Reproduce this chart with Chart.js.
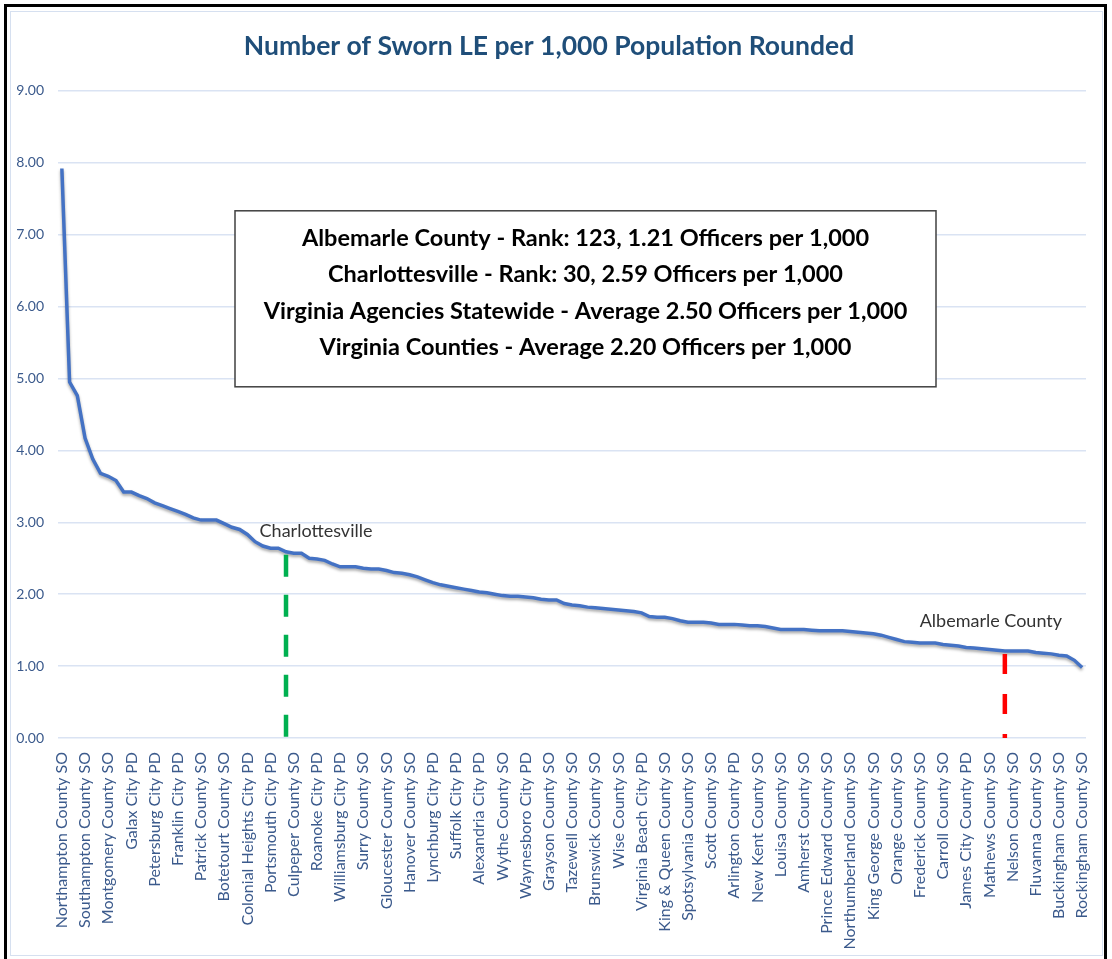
<!DOCTYPE html>
<html>
<head>
<meta charset="utf-8">
<title>Number of Sworn LE per 1,000 Population Rounded</title>
<script src="https://cdn.jsdelivr.net/npm/chart.js@4.4.1/dist/chart.umd.min.js"></script>
<style>
    body { margin: 0; background: #fff; width: 1112px; height: 959px; overflow: hidden; position: relative; }
    #frame { position: absolute; left: 4px; top: 4px; width: 1097px; height: 990px; border: 3px solid #000; }
    #panel { position: absolute; left: 10px; top: 11px; width: 1091px; height: 943px; border: 1px solid #d6e0f0; }
    #wrap { position: absolute; left: 12px; top: 13px; width: 1088px; height: 940px; }
</style>
</head>
<body>
<div id="frame"></div>
<div id="panel"></div>
<div id="wrap"><canvas id="leChart"></canvas></div>
<script>
// Officers per 1,000 population, one value per agency, highest to lowest (133 agencies)
const officersPer1000 = [
    7.92, 4.95, 4.76, 4.17, 3.88, 3.68, 3.64, 3.58, 3.42, 3.42,
    3.37, 3.33, 3.27, 3.23, 3.19, 3.15, 3.11, 3.06, 3.03, 3.03,
    3.03, 2.98, 2.93, 2.90, 2.83, 2.73, 2.67, 2.64, 2.64, 2.59,
    2.57, 2.57, 2.50, 2.49, 2.47, 2.42, 2.38, 2.38, 2.38, 2.36,
    2.35, 2.35, 2.33, 2.30, 2.29, 2.27, 2.24, 2.20, 2.16, 2.13,
    2.11, 2.09, 2.07, 2.05, 2.03, 2.02, 2.00, 1.98, 1.97, 1.97,
    1.96, 1.95, 1.93, 1.92, 1.92, 1.87, 1.85, 1.84, 1.82, 1.81,
    1.80, 1.79, 1.78, 1.77, 1.76, 1.74, 1.69, 1.68, 1.68, 1.66,
    1.63, 1.61, 1.61, 1.61, 1.60, 1.58, 1.58, 1.58, 1.57, 1.56,
    1.56, 1.55, 1.53, 1.51, 1.51, 1.51, 1.51, 1.50, 1.49, 1.49,
    1.49, 1.49, 1.48, 1.47, 1.46, 1.45, 1.43, 1.40, 1.37, 1.34,
    1.33, 1.32, 1.32, 1.32, 1.30, 1.29, 1.28, 1.26, 1.25, 1.24,
    1.23, 1.22, 1.21, 1.21, 1.21, 1.21, 1.19, 1.18, 1.17, 1.15,
    1.14, 1.08, 0.98
];

// Every third agency is labelled on the axis
const tickLabels = [
    'Northampton County SO', 'Southampton County SO', 'Montgomery County SO', 'Galax City PD',
    'Petersburg City PD', 'Franklin City PD', 'Patrick County SO', 'Botetourt County SO',
    'Colonial Heights City PD', 'Portsmouth City PD', 'Culpeper County SO', 'Roanoke City PD',
    'Williamsburg City PD', 'Surry County SO', 'Gloucester County SO', 'Hanover County SO',
    'Lynchburg City PD', 'Suffolk City PD', 'Alexandria City PD', 'Wythe County SO',
    'Waynesboro City PD', 'Grayson County SO', 'Tazewell County SO', 'Brunswick County SO',
    'Wise County SO', 'Virginia Beach City PD', 'King & Queen County SO', 'Spotsylvania County SO',
    'Scott County SO', 'Arlington County PD', 'New Kent County SO', 'Louisa County SO',
    'Amherst County SO', 'Prince Edward County SO', 'Northumberland County SO', 'King George County SO',
    'Orange County SO', 'Frederick County SO', 'Carroll County SO', 'James City County PD',
    'Mathews County SO', 'Nelson County SO', 'Fluvanna County SO', 'Buckingham County SO',
    'Rockingham County SO'
];
const labelStep = 3;

// Highlighted agencies: rank - 1 gives the index
const highlightNames = ['Charlottesville', 'Albemarle County'];
const highlightRanks = [30, 123];
const highlightColors = ['#00B050', '#FF0000'];

const boxLines = [
    'Albemarle County - Rank: 123, 1.21 Officers per 1,000',
    'Charlottesville - Rank: 30, 2.59 Officers per 1,000',
    'Virginia Agencies Statewide - Average 2.50 Officers per 1,000',
    'Virginia Counties - Average 2.20 Officers per 1,000'
];

// Build the category list from the axis labels plus the two highlighted agencies
const agencies = officersPer1000.map((v, i) => (i % labelStep === 0 ? tickLabels[i / labelStep] : ''));
highlightRanks.forEach((r, k) => { agencies[r - 1] = highlightNames[k]; });

const FONT = 'Lato, "Open Sans", sans-serif';

// Soft shadow under the line, like the spreadsheet original
const lineShadow = {
    id: 'lineShadow',
    beforeDatasetDraw(chart) {
        const ctx = chart.ctx;
        ctx.save();
        ctx.shadowColor = 'rgba(0,0,0,0.35)';
        ctx.shadowBlur = 3;
        ctx.shadowOffsetY = 2;
    },
    afterDatasetDraw(chart) {
        chart.ctx.restore();
    }
};

// Dashed markers, their captions and the summary box
const annotations = {
    id: 'annotations',
    afterDatasetsDraw(chart) {
        const ctx = chart.ctx;
        const xs = chart.scales.x;
        const ys = chart.scales.y;
        const area = chart.chartArea;

        highlightRanks.forEach((rank, k) => {
            const i = rank - 1;
            const x = xs.getPixelForValue(i);
            const yTop = ys.getPixelForValue(officersPer1000[i]) + 3;
            const yBottom = ys.getPixelForValue(0);
            ctx.save();
            ctx.strokeStyle = highlightColors[k];
            ctx.lineWidth = 4.5;
            ctx.setLineDash(k === 0 ? [22, 18] : [20, 20]);
            ctx.beginPath();
            ctx.moveTo(x, yTop);
            ctx.lineTo(x, yBottom);
            ctx.stroke();
            ctx.restore();

            ctx.save();
            ctx.fillStyle = '#333';
            ctx.font = '18px ' + FONT;
            ctx.textAlign = 'center';
            ctx.textBaseline = 'middle';
            const dx = k === 0 ? 30 : -14;
            const dy = k === 0 ? 21 : 30;
            ctx.fillText(highlightNames[k], x + dx, ys.getPixelForValue(officersPer1000[i]) - dy);
            ctx.restore();
        });

        // summary box
        const bx = area.left + 177, by = area.top + 120, bw = 701, bh = 176;
        ctx.save();
        ctx.fillStyle = '#fff';
        ctx.fillRect(bx, by, bw, bh);
        ctx.strokeStyle = '#404040';
        ctx.lineWidth = 1.5;
        ctx.strokeRect(bx, by, bw, bh);
        ctx.fillStyle = '#000';
        ctx.font = 'bold 23.5px ' + FONT;
        ctx.textAlign = 'center';
        ctx.textBaseline = 'middle';
        const offs = [28, 64, 101, 137];
        boxLines.forEach((t, j) => ctx.fillText(t, bx + bw / 2, by + offs[j]));
        ctx.restore();
    }
};

const ctx = document.getElementById('leChart').getContext('2d');
new Chart(ctx, {
    type: 'line',
    data: {
        labels: agencies,
        datasets: [{
            data: officersPer1000,
            borderColor: '#4472C4',
            borderWidth: 3.5,
            pointRadius: 0,
            tension: 0,
            fill: false
        }]
    },
    options: {
        responsive: true,
        maintainAspectRatio: false,
        animation: false,
        layout: { padding: { right: 14 } },
        plugins: {
            legend: { display: false },
            tooltip: { enabled: false },
            title: {
                display: true,
                text: 'Number of Sworn LE per 1,000 Population Rounded',
                color: '#1F4E79',
                font: { family: FONT, size: 26.5, weight: 'bold' },
                padding: { top: 18, bottom: 28 }
            }
        },
        scales: {
            x: {
                offset: true,
                grid: { display: false },
                border: { display: false },
                ticks: {
                    autoSkip: false,
                    maxRotation: 90,
                    minRotation: 90,
                    padding: 6,
                    color: '#3b5a8c',
                    font: { family: FONT, size: 16 },
                    callback: (v, i) => (i % labelStep === 0 ? tickLabels[i / labelStep] : null)
                },
                afterFit: scale => {
                    scale.height = 215;
                    scale.paddingLeft = 0;
                    scale.paddingRight = 0;
                }
            },
            y: {
                min: 0,
                max: 9,
                grid: { color: '#dae3f3', lineWidth: 1.5, drawTicks: false },
                border: { display: false },
                ticks: {
                    stepSize: 1,
                    padding: 14,
                    color: '#3b5a8c',
                    font: { family: FONT, size: 14 },
                    callback: v => v.toFixed(2)
                },
                afterFit: scale => { scale.width = 46; }
            }
        }
    },
    plugins: [lineShadow, annotations]
});
</script>
</body>
</html>
